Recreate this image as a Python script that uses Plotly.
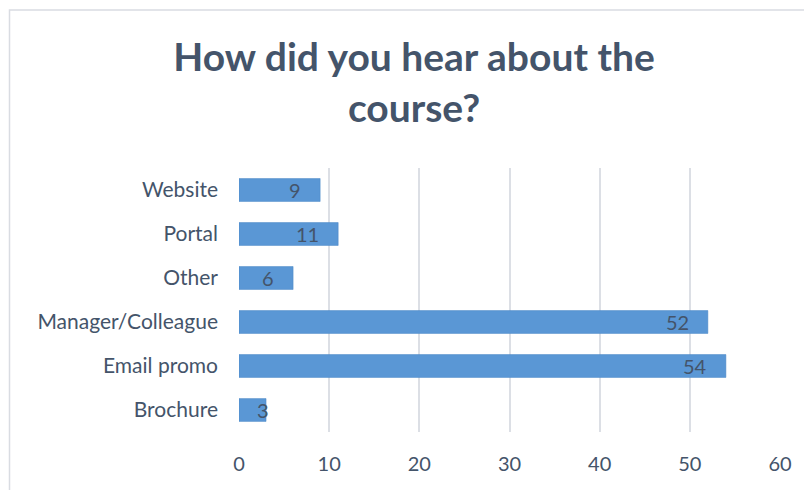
import plotly.graph_objects as go

categories = ["Brochure", "Email promo", "Manager/Colleague", "Other", "Portal", "Website"]
values = [3, 54, 52, 6, 11, 9]
x_ticks = [0, 10, 20, 30, 40, 50, 60]

TXT = "#44546A"
FONT = "Lato, 'Open Sans', sans-serif"

OFF = 8  # page body offset
W, H = 812, 490
L, T = 239 - OFF, 168 - OFF
plot_w = 780 - 239
plot_h = 432 - 168
R = W - L - plot_w
B = H - T - plot_h
px_per_unit = plot_w / 60.0

fig = go.Figure()
fig.add_trace(go.Bar(
    x=values, y=categories, orientation="h",
    marker=dict(color="#5A97D5", line=dict(color="#4A86C5", width=0.5)),
    width=0.52, hoverinfo="skip",
))

annotations = []
for c, v in zip(categories, values):
    tw = 11 * len(str(v))
    if v * px_per_unit < tw + 34:
        annotations.append(dict(x=0, y=c, xref="x", yref="y", text=str(v), showarrow=False,
                                xanchor="left", xshift=16, font=dict(size=20, color=TXT, family=FONT)))
    else:
        annotations.append(dict(x=v, y=c, xref="x", yref="y", text=str(v), showarrow=False,
                                xanchor="right", xshift=-17, font=dict(size=20, color=TXT, family=FONT)))

fig.update_layout(
    width=W, height=H,
    margin=dict(l=L, r=R, t=T, b=B),
    paper_bgcolor="white", plot_bgcolor="white",
    showlegend=False,
    title=dict(text="<b>How did you hear about the<br>course?</b>", x=(414 - OFF) / W, xanchor="center",
               y=1 - (71 - OFF) / H, yanchor="middle", xref="container", yref="container",
               font=dict(size=39, color=TXT, family=FONT)),
    xaxis=dict(range=[0, 60], tickvals=x_ticks, showgrid=True, gridcolor="#DCDFE5", gridwidth=1.6,
               zeroline=False, showline=False, ticks="",
               tickfont=dict(size=20, color=TXT, family=FONT), ticklabelstandoff=18),
    yaxis=dict(categoryorder="array", categoryarray=categories, showgrid=False, zeroline=False,
               showline=False, ticks="", tickfont=dict(size=21, color=TXT, family=FONT),
               ticklabelstandoff=20),
    annotations=annotations,
    bargap=0.48,
)

# chart outer border
x0 = (9.5 - 239) / plot_w
y1 = (432 - 10) / plot_h
fig.add_shape(type="rect", xref="paper", yref="paper", x0=x0, x1=1.2, y0=-0.5, y1=y1,
              line=dict(color="#D9DCE2", width=1.5), fillcolor="rgba(0,0,0,0)", layer="below")

fig.write_html("out.html")
